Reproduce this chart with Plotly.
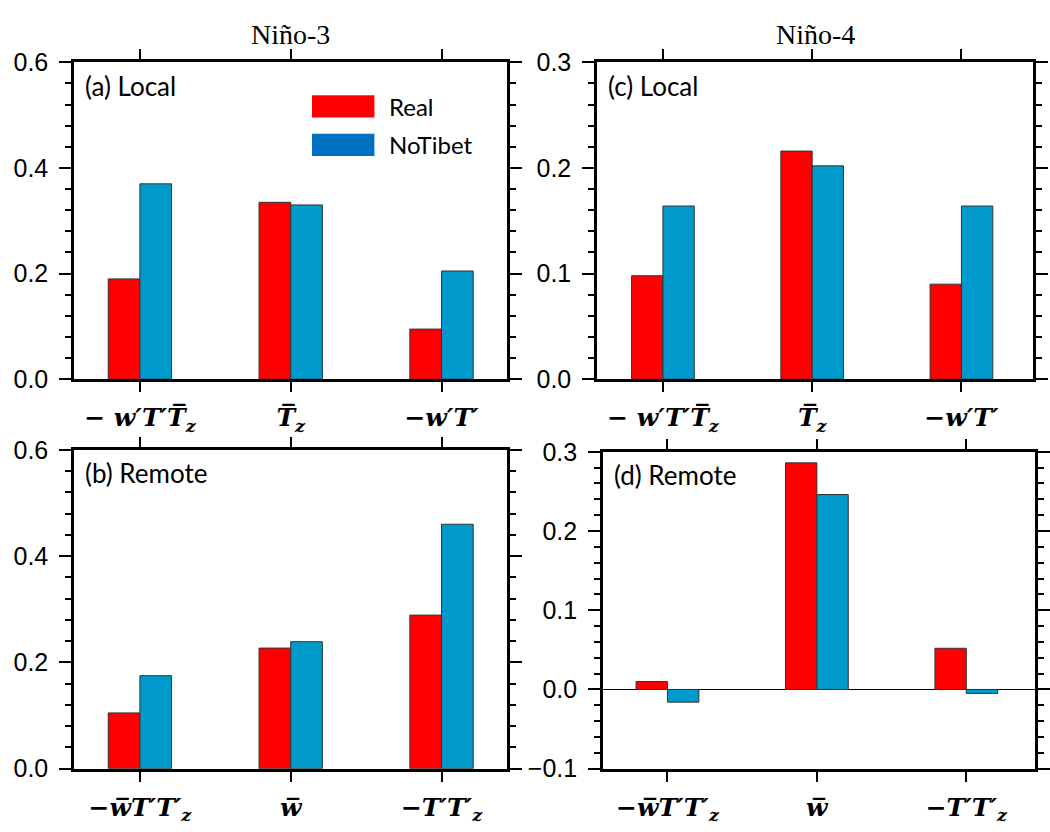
import plotly.graph_objects as go

W, H = 1050, 832

# ---------------- data ----------------
cats_local = ["<b><i>− w′T′T\u0305<sub>z</sub></i></b>", "<b><i>T\u0305<sub>z</sub></i></b>", "<b><i>−w′T′</i></b>"]
cats_remote = ["<b><i>−w\u0305T′T′<sub>z</sub></i></b>", "<b><i>w\u0305</i></b>", "<b><i>−T′T′<sub>z</sub></i></b>"]

nino3_local_real = [0.190, 0.335, 0.095]
nino3_local_notibet = [0.370, 0.330, 0.205]
nino3_remote_real = [0.105, 0.227, 0.289]
nino3_remote_notibet = [0.175, 0.239, 0.460]

nino4_local_real = [0.098, 0.216, 0.090]
nino4_local_notibet = [0.164, 0.202, 0.164]
nino4_remote_real = [0.010, 0.286, 0.052]
nino4_remote_notibet = [-0.016, 0.246, -0.005]

series_names = ["Real", "NoTibet"]
bar_colors = ["#FF0000", "#0099CC"]
legend_colors = ["#FF0000", "#0070C0"]

# ---------------- helpers ----------------
def px_x(x):
    return x / W

def px_y(y):
    return 1 - y / H

panels = [
    ("a", "", (75, 512), (50, 378), [0, 0.6], 0.2, 0.04, cats_local, nino3_local_real, nino3_local_notibet, [-0.435, 2.435], False),
    ("c", "2", (603, 1043), (50, 378), [0, 0.3], 0.1, 0.02, cats_local, nino4_local_real, nino4_local_notibet, [-0.44, 2.48], False),
    ("b", "3", (75, 512), (451, 781), [0, 0.6], 0.2, 0.04, cats_remote, nino3_remote_real, nino3_remote_notibet, [-0.435, 2.435], False),
    ("d", "4", (609, 1045), (453, 781), [-0.1, 0.3], 0.1, 0.02, cats_remote, nino4_remote_real, nino4_remote_notibet, [-0.43, 2.46], True),
]
labels = {"a": "(a) Local", "b": "(b) Remote", "c": "(c) Local", "d": "(d) Remote"}

fig = go.Figure()
bw = 0.21
xpos = [0, 1, 2]

for name, ax, (x0, x1), (y0, y1), yr, dt, mdt, cats, real, notib, xr, zl in panels:
    xa = "x" + ax
    ya = "y" + ax
    for vals, off, col, sname in [(real, -bw, bar_colors[0], series_names[0]), (notib, 0.0, bar_colors[1], series_names[1])]:
        fig.add_trace(go.Bar(
            x=xpos, y=vals, width=bw, offset=off, name=sname,
            marker=dict(color=col, line=dict(color="#333333", width=1)),
            xaxis=xa, yaxis=ya, showlegend=False,
        ))
    xkey = "xaxis" + ax
    ykey = "yaxis" + ax
    fig.layout[xkey] = dict(
        domain=[px_x(x0), px_x(x1)], anchor=ya, range=xr,
        tickvals=xpos, ticktext=cats, ticks="outside", ticklen=10, tickwidth=2,
        tickcolor="black", showline=True, linewidth=3, linecolor="black", mirror="ticks",
        showgrid=False, zeroline=False,
        tickfont=dict(family="DejaVu Serif", size=25, color="black"),
        ticklabelstandoff=4,
    )
    fig.layout[ykey] = dict(
        domain=[px_y(y1), px_y(y0)], anchor=xa, range=yr, dtick=dt, tick0=0,
        tickformat=".1f", ticks="outside", ticklen=12, tickwidth=2, tickcolor="black",
        minor=dict(dtick=mdt, ticks="outside", ticklen=6, tickwidth=1.5, tickcolor="black", showgrid=False),
        showline=True, linewidth=3, linecolor="black", mirror="ticks", showgrid=False,
        zeroline=zl, zerolinecolor="black", zerolinewidth=1,
        tickfont=dict(family="Liberation Sans", size=25, color="black"),
        ticklabelstandoff=6,
    )
    fig.add_annotation(
        x=px_x(x0 + 9), y=px_y(y0 + 24), xref="paper", yref="paper",
        text=labels[name], showarrow=False, xanchor="left", yanchor="middle",
        font=dict(family="Lato", size=26, color="black"),
    )

# titles
fig.add_annotation(x=px_x(293.5), y=px_y(21), xref="paper", yref="paper", text="Niño-3",
                   showarrow=False, xanchor="center", yanchor="middle",
                   font=dict(family="Liberation Serif", size=28, color="black"))
fig.add_annotation(x=px_x(823), y=px_y(21), xref="paper", yref="paper", text="Niño-4",
                   showarrow=False, xanchor="center", yanchor="middle",
                   font=dict(family="Liberation Serif", size=28, color="black"))

# legend (drawn manually)
leg_rows = [(84, 107), (124, 147)]
for (ly0, ly1), col, sname in zip(leg_rows, legend_colors, series_names):
    fig.add_shape(type="rect", xref="paper", yref="paper",
                  x0=px_x(315), x1=px_x(378), y0=px_y(ly1), y1=px_y(ly0),
                  fillcolor=col, line=dict(width=0))
    fig.add_annotation(x=px_x(391), y=px_y((ly0 + ly1) / 2), xref="paper", yref="paper",
                       text=sname, showarrow=False, xanchor="left", yanchor="middle",
                       font=dict(family="Lato", size=24, color="black"))

fig.update_layout(
    width=W, height=H, margin=dict(l=0, r=0, t=0, b=0),
    paper_bgcolor="white", plot_bgcolor="white", barmode="overlay",
    showlegend=False,
)

fig.write_html("out.html")
